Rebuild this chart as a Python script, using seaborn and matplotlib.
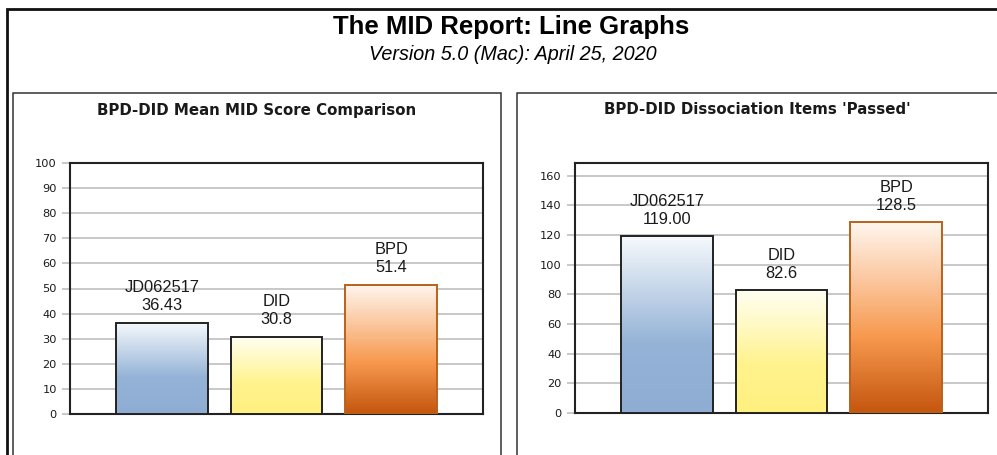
import numpy as np
import pandas as pd
import matplotlib
matplotlib.use("Agg")
import matplotlib.pyplot as plt
import seaborn as sns
from matplotlib.colors import LinearSegmentedColormap
from matplotlib.patches import Rectangle

# data
groups = ["JD062517", "DID", "BPD"]
mean_scores = [36.43, 30.8, 51.4]
mean_labels = ["36.43", "30.8", "51.4"]
items_passed = [119.00, 82.6, 128.5]
items_labels = ["119.00", "82.6", "128.5"]

main_title = "The MID Report: Line Graphs"
sub_title = "Version 5.0 (Mac): April 25, 2020"
left_title = "BPD-DID Mean MID Score Comparison"
right_title = "BPD-DID Dissociation Items 'Passed'"
left_ticks = list(range(0, 101, 10))
right_ticks = list(range(0, 161, 20))

# gradient stops (top, middle, bottom) and edge colour per bar
grads = [
    (["#f6f9fc", "#95b3d7", "#8fadd3"], "#222222"),
    (["#fffff3", "#fff38e", "#fff07f"], "#222222"),
    (["#fff6ef", "#f7994f", "#c4560e"], "#b8621c"),
]

sns.set_theme(style="white")
plt.rcParams["font.family"] = ["Liberation Sans", "DejaVu Sans"]
plt.rcParams["text.color"] = "black"

W, H = 997, 455
fig = plt.figure(figsize=(W / 100, H / 100), dpi=100)
fig.patch.set_facecolor("white")


def fx(px):
    return px / W


def fy(py):
    return 1 - py / H


# frames
fig.add_artist(Rectangle((fx(7), fy(470)), fx(1100), fy(9) - fy(470),
                         transform=fig.transFigure, fill=False,
                         ec="#111111", lw=2.0, clip_on=False))
for x0, x1 in [(12.5, 501), (517, 998)]:
    fig.add_artist(Rectangle((fx(x0), fy(470)), fx(x1 - x0), fy(93) - fy(470),
                             transform=fig.transFigure, fill=False,
                             ec="#333333", lw=1.1, clip_on=False))

fig.text(0.513, fy(27), main_title, ha="center", va="center",
         fontsize=18.5, fontweight="bold")
fig.text(0.514, fy(55), sub_title, ha="center", va="center",
         fontsize=14.2, style="italic")


def draw_panel(rect, values, labels, ticks, ymax, title, title_x):
    ax = fig.add_axes(rect)
    df = pd.DataFrame({"group": groups, "value": values})
    sns.barplot(data=df, x="group", y="value", ax=ax, width=0.8,
                color="white", saturation=1, zorder=3)
    for patch, (stops, ec) in zip(ax.patches, grads):
        x, w, h = patch.get_x(), patch.get_width(), patch.get_height()
        cmap = LinearSegmentedColormap.from_list("g", list(zip([0, 0.6, 1], stops)))
        grad = np.linspace(0, 1, 256).reshape(-1, 1)
        # origin "upper": first row (top stop) drawn at the top of the bar
        im = ax.imshow(grad, cmap=cmap, aspect="auto",
                       extent=[x, x + w, 0, h], zorder=3,
                       interpolation="bicubic")
        im.set_clip_path(patch)
        patch.set_facecolor("none")
        patch.set_edgecolor(ec)
        patch.set_linewidth(1.4)
        patch.set_zorder(4)
    ax.set_xlim(-0.8, 2.8)
    ax.set_ylim(0, ymax)
    for i, (g, lab, v) in enumerate(zip(groups, labels, values)):
        ax.annotate(f"{g}\n{lab}", xy=(i, v), xytext=(0, 7),
                    textcoords="offset points", ha="center", va="bottom",
                    fontsize=11.8, color="#1a1a1a", linespacing=1.25,
                    zorder=5)
    ax.set_yticks(ticks)
    ax.set_yticklabels([str(t) for t in ticks], family="DejaVu Sans",
                       fontsize=8.2, color="#1a1a1a")
    ax.set_xticks([])
    ax.set_xlabel("")
    ax.set_ylabel("")
    ax.yaxis.grid(True, color="#c4c4c4", lw=1.3, zorder=0)
    ax.set_axisbelow(True)
    ax.tick_params(axis="y", length=6, width=1.3, color="#c4c4c4", pad=3.5,
                   left=True)
    for s in ax.spines.values():
        s.set_visible(True)
        s.set_color("#222222")
        s.set_linewidth(1.5)
    fig.text(title_x, fy(110), title, ha="center", va="center",
             fontsize=10.8, fontweight="bold", family="DejaVu Sans",
             color="#1a1a1a")
    return ax


draw_panel([fx(70), fy(414), fx(413), fy(163) - fy(414)],
           mean_scores, mean_labels, left_ticks, 100, left_title, fx(257))
draw_panel([fx(575), fy(413), fx(413), fy(163) - fy(413)],
           items_passed, items_labels, right_ticks, 168.5, right_title, fx(757.5))

fig.savefig("out.png", dpi=100, facecolor="white")
